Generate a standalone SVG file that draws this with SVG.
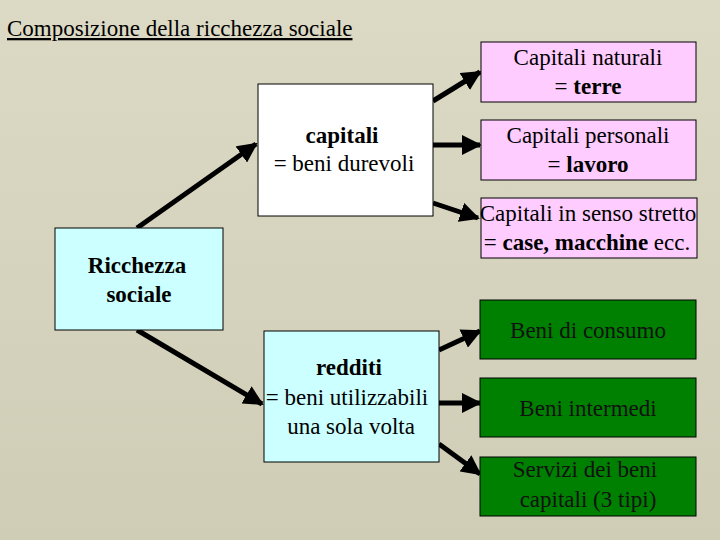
<svg xmlns="http://www.w3.org/2000/svg" width="720" height="540" viewBox="0 0 720 540" font-family="'Liberation Serif', 'Times New Roman', serif">
<defs>
<linearGradient id="bg" x1="0" y1="0" x2="0" y2="1">
<stop offset="0" stop-color="#dcdac5"/>
<stop offset="1" stop-color="#cfcdb6"/>
</linearGradient>
<marker id="ah" viewBox="0 0 10 10" refX="9" refY="5" markerWidth="4" markerHeight="4" orient="auto" markerUnits="strokeWidth">
<path d="M0,0 L10,5 L0,10 z" fill="#000"/>
</marker>
</defs>
<style>
text{font-family:'Liberation Serif','Times New Roman',serif;font-size:23px;fill:#000;text-anchor:middle}
.b{font-weight:bold}
.box{stroke:#000;stroke-width:1}
.pink{fill:#ffccff}
.cyan{fill:#ccffff}
.white{fill:#fff}
.green{fill:#008000}
.gt{fill:#111}
#connectors line{stroke:#000;stroke-width:5;marker-end:url(#ah)}
</style>
<rect width="720" height="540" fill="url(#bg)"/>
<g id="title">
<text x="7" y="36" style="text-anchor:start;text-decoration:underline">Composizione della ricchezza sociale</text>
</g>
<g id="connectors">
<line x1="137" y1="228" x2="256" y2="144"/>
<line x1="137" y1="330" x2="262" y2="404"/>
<line x1="433" y1="101" x2="480" y2="72"/>
<line x1="433" y1="145" x2="480" y2="145"/>
<line x1="433" y1="203" x2="478" y2="218"/>
<line x1="439" y1="350" x2="480" y2="331"/>
<line x1="439" y1="403" x2="480" y2="403"/>
<line x1="439" y1="444" x2="480" y2="474"/>
</g>
<g id="ricchezza">
<rect class="box cyan" x="55" y="228" width="168" height="102"/>
<text class="b" x="137" y="273">Ricchezza</text>
<text class="b" x="139" y="302">sociale</text>
</g>
<g id="capitali">
<rect class="box white" x="258" y="84" width="175" height="132"/>
<text class="b" x="342" y="143">capitali</text>
<text x="344" y="171">= beni durevoli</text>
</g>
<g id="redditi">
<rect class="box cyan" x="264" y="331" width="175" height="131"/>
<text class="b" x="349" y="375">redditi</text>
<text x="347" y="405">= beni utilizzabili</text>
<text x="351" y="434">una sola volta</text>
</g>
<g id="naturali">
<rect class="box pink" x="481" y="42" width="215" height="60"/>
<text x="588" y="65">Capitali naturali</text>
<text x="588" y="94">= <tspan class="b">terre</tspan></text>
</g>
<g id="personali">
<rect class="box pink" x="481" y="120" width="215" height="60"/>
<text x="588" y="143">Capitali personali</text>
<text x="588" y="172">= <tspan class="b">lavoro</tspan></text>
</g>
<g id="stretto">
<rect class="box pink" x="481" y="198" width="216" height="60"/>
<text x="588" y="221">Capitali in senso stretto</text>
<text x="587" y="250">= <tspan class="b">case, macchine</tspan> ecc.</text>
</g>
<g id="consumo">
<rect class="box green" x="480" y="300" width="216" height="59"/>
<text class="gt" x="588" y="338">Beni di consumo</text>
</g>
<g id="intermedi">
<rect class="box green" x="480" y="378" width="216" height="59"/>
<text class="gt" x="588" y="416">Beni intermedi</text>
</g>
<g id="servizi">
<rect class="box green" x="480" y="457" width="216" height="59"/>
<text class="gt" x="585" y="477">Servizi dei beni</text>
<text class="gt" x="588" y="507">capitali (3 tipi)</text>
</g>
</svg>
